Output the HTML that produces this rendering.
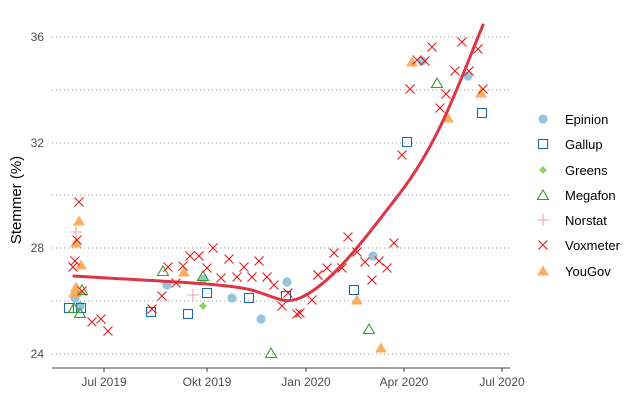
<!DOCTYPE html>
<html><head><meta charset="utf-8"><style>
body{margin:0;background:#fff;}
svg{display:block;font-family:"Liberation Sans",sans-serif;}
</style></head><body>
<svg width="642" height="400" viewBox="0 0 642 400">
<defs>
<g id="vx"><path d="M-4.5,-4.5L4.5,4.5M-4.5,4.5L4.5,-4.5" stroke="#e41a1c" stroke-width="1.1" fill="none"/></g>
<g id="ep"><circle r="4.6" fill="#92c5de"/></g>
<g id="ga"><rect x="-4.5" y="-4.5" width="9" height="9" fill="none" stroke="#2166ac" stroke-width="1.1"/></g>
<g id="gr"><path d="M0,-4L4,0L0,4L-4,0Z" fill="#8fd163"/></g>
<g id="me"><path d="M0,-5L5.5,4.5L-5.5,4.5Z" fill="none" stroke="#33a02c" stroke-width="1.1"/></g>
<g id="no"><path d="M-6,0H6M0,-6V6" stroke="#f4a3a8" stroke-width="1.1"/></g>
<g id="yg"><path d="M0,-5.5L6,4.5L-6,4.5Z" fill="#fdae61"/></g>
</defs>
<g stroke="#999" stroke-width="1" stroke-dasharray="1,3">
<line x1="52" x2="510" y1="37" y2="37"/><line x1="52" x2="510" y1="90" y2="90"/>
<line x1="52" x2="510" y1="143" y2="143"/><line x1="52" x2="510" y1="195" y2="195"/>
<line x1="52" x2="510" y1="248" y2="248"/><line x1="52" x2="510" y1="301" y2="301"/>
<line x1="52" x2="510" y1="354" y2="354"/>
</g>
<line x1="52" x2="510" y1="368" y2="368" stroke="#444" stroke-width="1"/>
<g stroke="#444"><line x1="104" x2="104" y1="368" y2="372"/><line x1="207" x2="207" y1="368" y2="372"/><line x1="306" x2="306" y1="368" y2="372"/><line x1="404" x2="404" y1="368" y2="372"/><line x1="502" x2="502" y1="368" y2="372"/></g>
<g font-size="12" fill="#4d4d4d" text-anchor="end">
<text x="44" y="41">36</text><text x="44" y="147">32</text><text x="44" y="252">28</text><text x="44" y="358">24</text>
</g>
<g font-size="12" fill="#4d4d4d" text-anchor="middle">
<text x="104" y="386">Jul 2019</text><text x="207" y="386">Okt 2019</text><text x="306" y="386">Jan 2020</text><text x="404" y="386">Apr 2020</text><text x="502" y="386">Jul 2020</text>
</g>
<text transform="translate(21,200) rotate(-90)" font-size="15" text-anchor="middle" fill="#000">Stemmer (%)</text>

<g>
<use href="#ep" x="75" y="298"/><use href="#ep" x="167" y="285"/><use href="#ep" x="203" y="279"/><use href="#ep" x="232" y="298"/><use href="#ep" x="261" y="319"/><use href="#ep" x="287" y="282"/><use href="#ep" x="373" y="256"/><use href="#ep" x="422" y="61"/><use href="#ep" x="468" y="76"/><use href="#ep" x="80" y="306"/>
<use href="#ga" x="69" y="308"/><use href="#ga" x="81" y="308"/><use href="#ga" x="151" y="312"/><use href="#ga" x="188" y="314"/><use href="#ga" x="207" y="293"/><use href="#ga" x="249" y="298"/><use href="#ga" x="286" y="296"/><use href="#ga" x="354" y="290"/><use href="#ga" x="407" y="142"/><use href="#ga" x="482" y="113"/>
<use href="#gr" x="203" y="306"/><use href="#gr" x="80" y="293"/>
<use href="#me" x="74" y="308"/><use href="#me" x="80" y="313"/><use href="#me" x="82" y="290"/><use href="#me" x="163" y="271"/><use href="#me" x="203" y="276"/><use href="#me" x="271" y="353"/><use href="#me" x="369" y="329"/><use href="#me" x="437" y="83"/>
<use href="#no" x="76" y="232"/><use href="#no" x="193" y="295"/>
<use href="#yg" x="79" y="221"/><use href="#yg" x="76" y="243"/><use href="#yg" x="81" y="265"/><use href="#yg" x="76" y="287"/><use href="#yg" x="74" y="293"/><use href="#yg" x="184" y="272"/><use href="#yg" x="412" y="62"/><use href="#yg" x="357" y="300"/><use href="#yg" x="381" y="348"/><use href="#yg" x="448" y="118"/><use href="#yg" x="481" y="93"/>
<use href="#vx" x="79" y="202"/><use href="#vx" x="77" y="240"/><use href="#vx" x="75" y="261"/><use href="#vx" x="73" y="267"/><use href="#vx" x="82" y="291"/><use href="#vx" x="92" y="322"/><use href="#vx" x="101" y="319"/><use href="#vx" x="108" y="331"/><use href="#vx" x="152" y="309"/><use href="#vx" x="162" y="296"/><use href="#vx" x="168" y="267"/><use href="#vx" x="176" y="283"/><use href="#vx" x="183" y="266"/><use href="#vx" x="190" y="256"/><use href="#vx" x="199" y="256"/><use href="#vx" x="207" y="268"/><use href="#vx" x="213" y="248"/><use href="#vx" x="221" y="278"/><use href="#vx" x="229" y="259"/><use href="#vx" x="237" y="277"/><use href="#vx" x="244" y="267"/><use href="#vx" x="252" y="277"/><use href="#vx" x="259" y="261"/><use href="#vx" x="267" y="277"/><use href="#vx" x="274" y="285"/><use href="#vx" x="282" y="306"/><use href="#vx" x="288" y="293"/><use href="#vx" x="297" y="314"/><use href="#vx" x="312" y="300"/><use href="#vx" x="318" y="275"/><use href="#vx" x="300" y="313"/>
<use href="#vx" x="348" y="237"/><use href="#vx" x="334" y="253"/><use href="#vx" x="318" y="275"/><use href="#vx" x="327" y="268"/><use href="#vx" x="342" y="268"/><use href="#vx" x="357" y="252"/><use href="#vx" x="365" y="262"/><use href="#vx" x="379" y="261"/><use href="#vx" x="387" y="268"/><use href="#vx" x="372" y="280"/><use href="#vx" x="394" y="243"/><use href="#vx" x="402" y="155"/><use href="#vx" x="410" y="89"/><use href="#vx" x="432" y="47"/><use href="#vx" x="417" y="60"/><use href="#vx" x="425" y="61"/><use href="#vx" x="462" y="42"/><use href="#vx" x="478" y="49"/><use href="#vx" x="455" y="71"/><use href="#vx" x="469" y="71"/><use href="#vx" x="446" y="94"/><use href="#vx" x="440" y="108"/><use href="#vx" x="483" y="89"/>
</g>
<path d="M74,276 C150,281 230,283 255,291 S285,304 300,298 C330,285 360,245 400,193 S460,80 483,25" fill="none" stroke="#dc3545" stroke-width="3" stroke-linecap="round"/>

<g font-size="13" fill="#000">
<use href="#ep" x="543" y="119"/><text x="565" y="124">Epinion</text>
<use href="#ga" x="543" y="144"/><text x="565" y="149">Gallup</text>
<use href="#gr" x="543" y="170"/><text x="565" y="175">Greens</text>
<use href="#me" x="543" y="195"/><text x="565" y="200">Megafon</text>
<use href="#no" x="543" y="220"/><text x="565" y="225">Norstat</text>
<use href="#vx" x="543" y="245"/><text x="565" y="250">Voxmeter</text>
<use href="#yg" x="543" y="271"/><text x="565" y="276">YouGov</text>
</g>
</svg>
</body></html>
